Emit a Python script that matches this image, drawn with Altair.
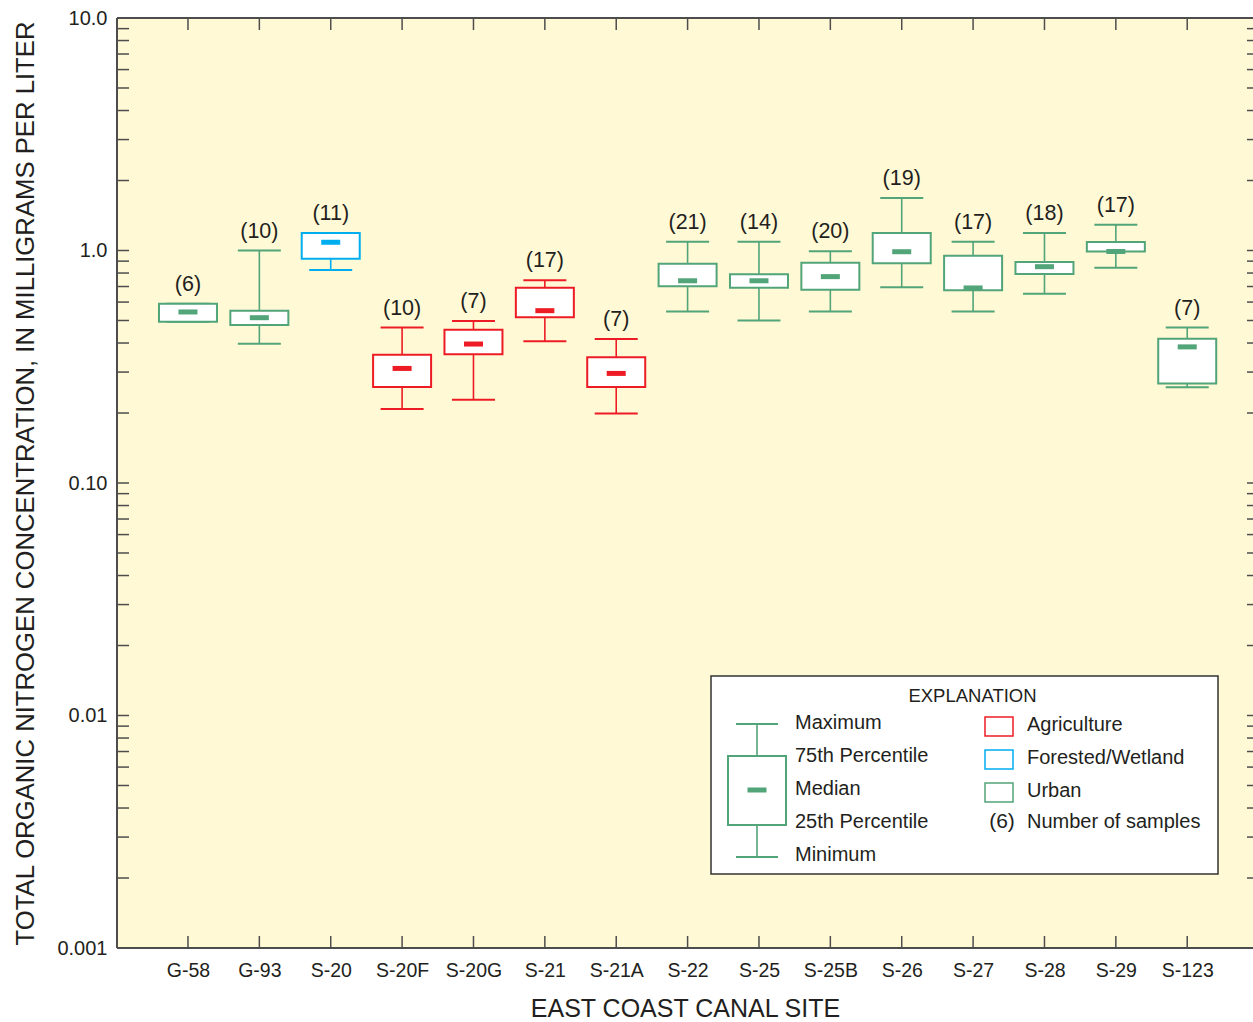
import math
import altair as alt
import pandas as pd

# ---- data -----------------------------------------------------------------
sites = ["G-58", "G-93", "S-20", "S-20F", "S-20G", "S-21", "S-21A", "S-22",
         "S-25", "S-25B", "S-26", "S-27", "S-28", "S-29", "S-123"]
land_use = ["Urban", "Urban", "Forested/Wetland", "Agriculture", "Agriculture",
            "Agriculture", "Agriculture", "Urban", "Urban", "Urban", "Urban",
            "Urban", "Urban", "Urban", "Urban"]
n_samples = [6, 10, 11, 10, 7, 17, 7, 21, 14, 20, 19, 17, 18, 17, 7]
v_max = [0.59, 1.00, 1.19, 0.466, 0.497, 0.744, 0.416, 1.09, 1.09, 0.992,
         1.68, 1.09, 1.19, 1.29, 0.466]
v_q3 = [0.59, 0.551, 1.19, 0.356, 0.456, 0.692, 0.347, 0.877, 0.79, 0.886,
        1.19, 0.95, 0.892, 1.088, 0.417]
v_median = [0.544, 0.514, 1.085, 0.311, 0.396, 0.551, 0.296, 0.741, 0.741,
            0.772, 0.988, 0.69, 0.852, 0.99, 0.385]
v_q1 = [0.494, 0.478, 0.922, 0.259, 0.358, 0.516, 0.259, 0.702, 0.692, 0.678,
        0.881, 0.674, 0.793, 0.99, 0.268]
v_min = [0.494, 0.397, 0.824, 0.208, 0.228, 0.407, 0.199, 0.546, 0.50, 0.546,
         0.695, 0.546, 0.652, 0.843, 0.258]

use_names = ["Agriculture", "Forested/Wetland", "Urban"]
use_colors = ["#ED1C24", "#00AEEF", "#52A479"]

y_tick_values = [0.001, 0.01, 0.1, 1.0, 10.0]
y_tick_labels = ["0.001", "0.01", "0.10", "1.0", "10.0"]

stat_labels = ["Maximum", "75th Percentile", "Median", "25th Percentile", "Minimum"]
count_key = "(6)"
count_key_text = "Number of samples"
x_title = "EAST COAST CANAL SITE"
y_title = "TOTAL ORGANIC NITROGEN CONCENTRATION, IN MILLIGRAMS PER LITER"

# ---- layout / style -------------------------------------------------------
W, H = 1136, 930
FONT = "Liberation Sans"
INK = "#231F20"
FRAME = "#4D4D4D"
TICK = 12

df = pd.DataFrame({
    "site": sites, "use": land_use, "n": n_samples, "vmax": v_max,
    "q3": v_q3, "med": v_median, "q1": v_q1, "vmin": v_min,
})
df["label"] = ["(%d)" % k for k in df["n"]]

one_row = pd.DataFrame({"k": [0]})

xscale = alt.Scale(type="point", domain=sites, padding=0.958, align=0.519)
yscale = alt.Scale(type="log", domain=[0.001, 10], nice=False)
cscale = alt.Scale(domain=use_names, range=use_colors)

label_expr = " : ".join(
    "abs(log(datum.value)/log(10) - (%g)) < 0.01 ? '%s'" % (math.log10(v), t)
    for v, t in zip(y_tick_values, y_tick_labels)
) + " : ''"

x_axis = alt.Axis(title=x_title, labelAngle=0, ticks=False, tickSize=0, domain=False,
                  grid=False, labelFont=FONT, labelFontSize=19.5, labelColor=INK,
                  labelPadding=13, titleFont=FONT, titleFontSize=25,
                  titleFontWeight="normal", titleColor=INK, titleY=68,
                  titleBaseline="alphabetic")
y_axis = alt.Axis(title=y_title, values=y_tick_values, labelExpr=label_expr,
                  ticks=False, tickSize=0, domain=False, grid=False,
                  labelFont=FONT, labelFontSize=20, labelColor=INK, labelPadding=10,
                  labelOverlap=False, titleFont=FONT, titleFontSize=25.7,
                  titleFontWeight="normal", titleColor=INK, titleX=-84,
                  titleBaseline="alphabetic")

X = alt.X("site:N", scale=xscale, axis=None)
C = alt.Color("use:N", scale=cscale, legend=None)

base = alt.Chart(df)

whisk_hi = base.mark_rule(strokeWidth=1.6).encode(
    x=X, y=alt.Y("q3:Q", scale=yscale, axis=None), y2="vmax:Q", color=C)
whisk_lo = base.mark_rule(strokeWidth=1.6).encode(
    x=X, y=alt.Y("vmin:Q", scale=yscale, axis=None), y2="q1:Q", color=C)
cap_hi = base.mark_tick(size=43, thickness=2, opacity=1).encode(
    x=X, y=alt.Y("vmax:Q", scale=yscale, axis=None), color=C)
cap_lo = base.mark_tick(size=43, thickness=2, opacity=1).encode(
    x=X, y=alt.Y("vmin:Q", scale=yscale, axis=None), color=C)
boxes = base.mark_bar(size=58, fill="white", strokeWidth=2).encode(
    x=alt.X("site:N", scale=xscale, axis=x_axis),
    y=alt.Y("q1:Q", scale=yscale, axis=y_axis), y2="q3:Q",
    stroke=alt.Stroke("use:N", scale=cscale, legend=None))
medians = base.mark_tick(size=19, thickness=5, opacity=1).encode(
    x=X, y=alt.Y("med:Q", scale=yscale, axis=None), color=C)
counts = base.mark_text(dy=-13, baseline="alphabetic", font=FONT, fontSize=21.5,
                        color=INK).encode(
    x=X, y=alt.Y("vmax:Q", scale=yscale, axis=None), text="label:N")

# inward ticks on all four sides
minor = pd.DataFrame({"v": [m * 10.0 ** k for k in range(-3, 1) for m in range(1, 10)] + [10.0]})
tick_left = alt.Chart(minor).mark_rule(color=FRAME, strokeWidth=1.5).encode(
    y=alt.Y("v:Q", scale=yscale, axis=None), x=alt.value(0), x2=alt.value(TICK))
tick_right = alt.Chart(minor).mark_rule(color=FRAME, strokeWidth=1.5).encode(
    y=alt.Y("v:Q", scale=yscale, axis=None), x=alt.value(W - 6), x2=alt.value(W))
tick_top = base.mark_rule(color=FRAME, strokeWidth=1.5).encode(
    x=X, y=alt.value(0), y2=alt.value(TICK))
tick_bottom = base.mark_rule(color=FRAME, strokeWidth=1.5).encode(
    x=X, y=alt.value(H - TICK), y2=alt.value(H))

frame_left = alt.Chart(one_row).mark_rule(color=FRAME, strokeWidth=2).encode(
    x=alt.value(0), y=alt.value(0), y2=alt.value(H))
frame_top = alt.Chart(one_row).mark_rule(color=FRAME, strokeWidth=2).encode(
    y=alt.value(0), x=alt.value(0), x2=alt.value(W))
frame_bottom = alt.Chart(one_row).mark_rule(color=FRAME, strokeWidth=2).encode(
    y=alt.value(H), x=alt.value(0), x2=alt.value(W))

# ---- explanation panel ------------------------------------------------------
PX0, PX1, PY0, PY1 = 594, 1101, 658, 856
panel = alt.Chart(one_row).mark_rect(fill="white", stroke="#333333", strokeWidth=1.5).encode(
    x=alt.value(PX0), x2=alt.value(PX1), y=alt.value(PY0), y2=alt.value(PY1))
panel_title = alt.Chart(one_row).mark_text(
    text="EXPLANATION", font=FONT, fontSize=18.5, color=INK, baseline="middle").encode(
    x=alt.value((PX0 + PX1) / 2 + 8), y=alt.value(PY0 + 20))

row_y = [PY0 + 47 + 33 * i for i in range(len(stat_labels))]
stat_df = pd.DataFrame({"label": stat_labels, "py": row_y})
stat_text = alt.Chart(stat_df).mark_text(
    align="left", baseline="middle", font=FONT, fontSize=20, color=INK).encode(
    x=alt.value(PX0 + 84), y=alt.Y("py:Q", scale=None, axis=None), text="label:N")

GC = PX0 + 46          # glyph centre
green = use_colors[2]
g_max, g_top, g_med, g_bot, g_min = row_y[0] + 1, row_y[1], row_y[2] + 1, row_y[3] + 3, row_y[4] + 2


def seg(x1, y1, x2, y2, w=1.6):
    return alt.Chart(one_row).mark_rule(color=green, strokeWidth=w).encode(
        x=alt.value(x1), x2=alt.value(x2), y=alt.value(y1), y2=alt.value(y2))


glyph = [
    seg(GC, g_max, GC, g_top), seg(GC, g_bot, GC, g_min),
    seg(GC - 21, g_max, GC + 21, g_max, 2), seg(GC - 21, g_min, GC + 21, g_min, 2),
    alt.Chart(one_row).mark_rect(fill="white", stroke=green, strokeWidth=2).encode(
        x=alt.value(GC - 29), x2=alt.value(GC + 29), y=alt.value(g_top), y2=alt.value(g_bot)),
    alt.Chart(one_row).mark_rect(fill=green).encode(
        x=alt.value(GC - 9.5), x2=alt.value(GC + 9.5), y=alt.value(g_med - 2.5),
        y2=alt.value(g_med + 2.5)),
]

sw_y = [PY0 + 51 + 33 * i for i in range(len(use_names))]
use_df = pd.DataFrame({
    "label": use_names, "color": use_colors,
    "y1": [y - 10 for y in sw_y], "y2": [y + 9 for y in sw_y], "ty": [y - 2 for y in sw_y],
})
swatches = alt.Chart(use_df).mark_rect(fill="white", strokeWidth=1.5).encode(
    x=alt.value(PX0 + 274), x2=alt.value(PX0 + 302),
    y=alt.Y("y1:Q", scale=None, axis=None), y2="y2:Q",
    stroke=alt.Stroke("color:N", scale=None, legend=None))
use_text = alt.Chart(use_df).mark_text(
    align="left", baseline="middle", font=FONT, fontSize=20, color=INK).encode(
    x=alt.value(PX0 + 316), y=alt.Y("ty:Q", scale=None, axis=None), text="label:N")
n_key = alt.Chart(one_row).mark_text(
    text=count_key, font=FONT, fontSize=21, color=INK, baseline="middle").encode(
    x=alt.value(PX0 + 291), y=alt.value(row_y[3]))
n_key_text = alt.Chart(one_row).mark_text(
    text=count_key_text, align="left", baseline="middle", font=FONT, fontSize=20,
    color=INK).encode(x=alt.value(PX0 + 316), y=alt.value(row_y[3]))

chart = alt.layer(
    tick_left, tick_right, tick_top, tick_bottom,
    whisk_hi, whisk_lo, cap_hi, cap_lo, boxes, medians, counts,
    frame_left, frame_top, frame_bottom,
    panel, panel_title, stat_text, *glyph, swatches, use_text, n_key, n_key_text,
).resolve_scale(
    x="independent", y="independent", color="independent", stroke="independent"
).properties(
    width=W, height=H,
    autosize=alt.AutoSizeParams(type="none"),
    padding={"left": 117, "top": 18, "right": 0, "bottom": 74},
    background="white",
).configure_view(fill="#FFF9D6", stroke=None)

chart.save("out.html", embed_options={"renderer": "svg", "actions": False})
